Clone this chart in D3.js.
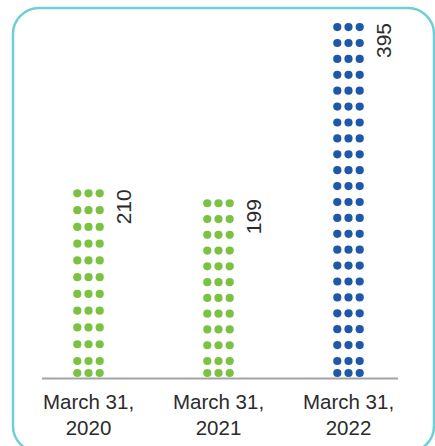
<!DOCTYPE html>
<html>
<head>
<meta charset="utf-8">
<script src="https://cdn.jsdelivr.net/npm/d3@7/dist/d3.min.js"></script>
<style>
  html, body { margin: 0; padding: 0; background: #ffffff; }
  svg { display: block; }
  text { font-family: "Liberation Sans", Arial, Helvetica, sans-serif; fill: #2b2b2b; }
</style>
</head>
<body>
<svg id="chart" width="435" height="446"></svg>
<script>
const categoryLine1 = ["March 31,", "March 31,", "March 31,"];
const categoryLine2 = ["2020", "2021", "2022"];
const values = [210, 199, 395];
const valueLabels = ["210", "199", "395"];
const colors = ["#7cc242", "#7cc242", "#1f57aa"];

const svg = d3.select("#chart");
const W = 435, H = 446;

// card
svg.append("rect")
  .attr("x", 13).attr("y", 8)
  .attr("width", 421).attr("height", 444)
  .attr("rx", 26).attr("ry", 26)
  .attr("fill", "none")
  .attr("stroke", "#6fcfd5")
  .attr("stroke-width", 2.5);

const baseline = 378;
const x = d3.scalePoint().domain(categoryLine2).range([88.5, 348.5]);
const y = d3.scaleLinear().domain([0, d3.max(values)]).range([baseline, 23]);

const r = 4.1, colGap = 11.2, targetRowGap = 16;

const g = svg.append("g");
values.forEach((v, i) => {
  const cx = x(categoryLine2[i]);
  const top = y(v);
  const firstRow = top + r;
  const lastRegular = baseline - 17;
  const span = lastRegular - firstRow;
  const n = Math.max(1, Math.round(span / targetRowGap));
  const gap = span / n;
  const rows = d3.range(n + 1).map(k => firstRow + k * gap);
  rows.push(baseline - 5);
  const dots = [];
  rows.forEach(ry => [-1, 0, 1].forEach(c => dots.push({ x: cx + c * colGap, y: ry })));
  g.selectAll(null).data(dots).enter().append("circle")
    .attr("cx", d => d.x).attr("cy", d => d.y).attr("r", r)
    .attr("fill", colors[i]);

  svg.append("text")
    .attr("transform", `translate(${cx + 35},${top}) rotate(-90)`)
    .attr("text-anchor", "end")
    .attr("dy", "0.36em")
    .attr("font-size", 21)
    .text(valueLabels[i]);
});

// axis line
svg.append("line")
  .attr("x1", 42).attr("x2", 398)
  .attr("y1", baseline + 0.5).attr("y2", baseline + 0.5)
  .attr("stroke", "#a3a3a3").attr("stroke-width", 2);

// category labels
categoryLine2.forEach((c, i) => {
  const t = svg.append("text")
    .attr("x", x(c)).attr("text-anchor", "middle")
    .attr("font-size", 20.5);
  t.append("tspan").attr("x", x(c)).attr("y", 408.5).text(categoryLine1[i]);
  t.append("tspan").attr("x", x(c)).attr("y", 435).text(categoryLine2[i]);
});
</script>
</body>
</html>
